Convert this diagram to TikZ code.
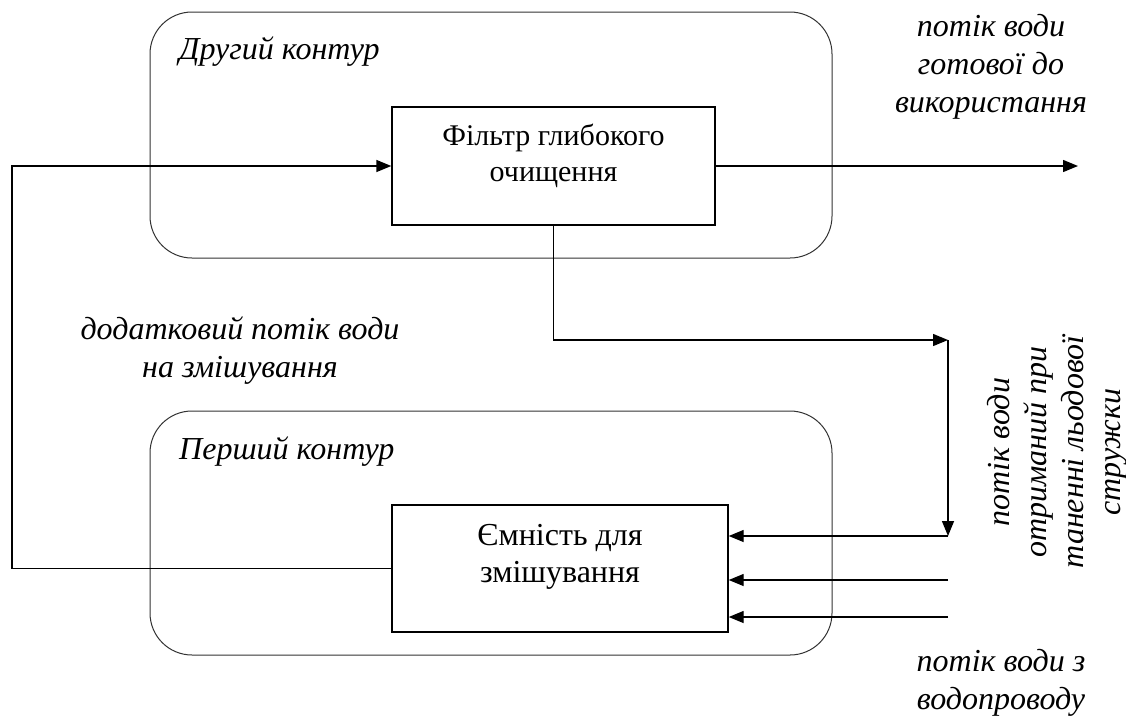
\documentclass[tikz,border=0pt]{standalone}
\usepackage{fontspec}
\setmainfont{Liberation Serif}
\usetikzlibrary{arrows.meta}
\tikzset{
  contour/.style={draw=black!80, line width=1pt, rounded corners=42pt},
  block/.style={draw, line width=1.4pt, inner sep=0pt},
  conn/.style={line width=1.4pt},
  arr/.style={conn, -{Triangle[length=15pt,width=12pt]}},
  lbl/.style={font=\fontsize{32}{38}\selectfont\itshape, align=center, inner sep=0pt},
  btxt/.style={font=\fontsize{30}{36}\selectfont, align=center, inner sep=0pt},
}
\begin{document}
\begin{tikzpicture}[x=1pt,y=-1pt]
\useasboundingbox (0,0) rectangle (1126,715);
% contours
\node[contour, minimum width=682pt, minimum height=246pt] (top) at (491,135) {};
\node[contour, minimum width=682pt, minimum height=244pt] (bot) at (491,533) {};
\node[lbl, anchor=west] (t1) at (179,52) {Другий контур};
\node[lbl, anchor=west] (t2) at (179,452) {Перший контур};
% blocks
\node[block, minimum width=323pt, minimum height=118pt] (f) at (553.5,166) {};
\node[btxt] (ft) at (553.5,156) {Фільтр глибокого\\очищення};
\node[block, minimum width=336pt, minimum height=127pt] (c) at (560,568.5) {};
\node[btxt, font=\fontsize{32}{37}\selectfont] (ct) at (560,557) {Ємність для\\змішування};
% labels
\node[lbl] (lout) at (991,67) {потік води\\готової до\\використання};
\node[lbl] (ladd) at (240,351) {додатковий потік води\\на змішування};
\node[lbl, rotate=90, font=\fontsize{32}{37}\selectfont\itshape] (lice) at (1057,452) {потік води\\отриманий при\\таненні льодової\\стружки};
\node[lbl] (lpipe) at (1001,683) {потік води з\\водопроводу};
% coordinates
\coordinate (L1) at (12,568.5);
\coordinate (L2) at (12,166);
\coordinate (O) at (1078,166);
\coordinate (J1) at (948,340);
\coordinate (J2) at (948,536);
\coordinate (J3) at (948,580);
\coordinate (J4) at (948,617);
% connectors
\draw[arr] (c.west) -- (L1) -- (L2) -- (f.west);
\draw[arr] (f.east) -- (O);
\draw[arr] (f.south) |- (J1);
\draw[arr] (J1) -- (J2);
\draw[arr] (J2) -- (J2 -| c.east);
\draw[arr] (J3) -- (J3 -| c.east);
\draw[arr] (J4) -- (J4 -| c.east);
\end{tikzpicture}
\end{document}
